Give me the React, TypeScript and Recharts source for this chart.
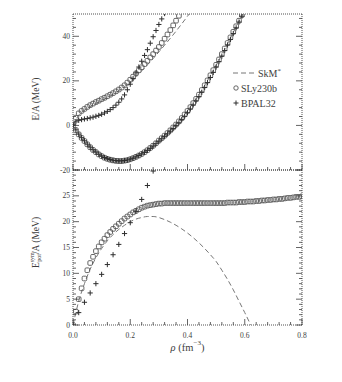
import React from "react";
import { ComposedChart, Line, Scatter, XAxis, YAxis, Legend, Label } from "recharts";

// density grids (fm^-3)
const RHO_FINE = [
  0, 0.01, 0.02, 0.03, 0.04, 0.05, 0.06, 0.07, 0.08, 0.09,
  0.1, 0.11, 0.12, 0.13, 0.14, 0.15, 0.16, 0.17, 0.18, 0.19,
  0.2, 0.21, 0.22, 0.23, 0.24, 0.25, 0.26, 0.27, 0.28, 0.29,
  0.3, 0.31, 0.32, 0.33, 0.34, 0.35, 0.36, 0.37, 0.38, 0.39,
  0.4, 0.41, 0.42, 0.43, 0.44, 0.45, 0.46, 0.47, 0.48, 0.49,
  0.5, 0.51, 0.52, 0.53, 0.54, 0.55, 0.56, 0.57, 0.58, 0.59,
  0.6, 0.61, 0.62, 0.63, 0.64, 0.65, 0.66, 0.67, 0.68, 0.69,
  0.7, 0.71, 0.72, 0.73, 0.74, 0.75, 0.76, 0.77, 0.78, 0.79,
  0.8,
];
const RHO = [
  0, 0.02, 0.04, 0.06, 0.08, 0.1, 0.12, 0.14, 0.16, 0.18,
  0.2, 0.22, 0.24, 0.26, 0.28, 0.3, 0.32, 0.34, 0.36, 0.38,
  0.4, 0.42, 0.44, 0.46, 0.48, 0.5, 0.52, 0.54, 0.56, 0.58,
  0.6, 0.62, 0.64, 0.66, 0.68, 0.7, 0.72, 0.74, 0.76, 0.78,
  0.8,
];

// top panel: symmetric matter E/A (MeV)
const SNM_SLY = [
  0.0, -2.1, -4.0, -5.6, -7.0, -8.5, -9.8, -11.0, -12.0, -13.0,
  -13.8, -14.5, -15.0, -15.4, -15.7, -15.9, -16.0, -16.0, -15.8, -15.6,
  -15.2, -14.7, -14.1, -13.5, -12.8, -12.0, -11.1, -10.1, -9.1, -8.0,
  -6.8, -5.7, -4.6, -3.4, -2.2, -0.9, 0.4, 1.8, 3.3, 4.9,
  6.5, 8.2, 10.0, 11.9, 13.8, 15.9, 18.0, 20.2, 22.5, 24.8,
  27.2, 29.6, 32.0, 34.5, 37.0, 39.5, 42.0, 44.5, 47.0, 49.5,
  52.0,
];
const SNM_BPAL = [
  0.0, -2.0, -3.9, -5.5, -6.9, -8.4, -9.7, -10.9, -11.9, -12.9,
  -13.7, -14.4, -14.9, -15.3, -15.6, -15.8, -15.9, -15.9, -15.7, -15.5,
  -15.1, -14.7, -14.1, -13.5, -12.8, -12.1, -11.2, -10.3, -9.3, -8.2,
  -7.1, -6.0, -4.9, -3.8, -2.6, -1.4, -0.1, 1.2, 2.6, 4.1,
  5.7, 7.4, 9.2, 11.0, 12.9, 14.9, 17.0, 19.2, 21.5, 23.8,
  26.2, 28.6, 31.1, 33.6, 36.1, 38.6, 41.2, 43.8, 46.4, 49.0,
  51.6,
];
const SNM_SKM = [
  0.0, -4.1, -7.1, -9.9, -12.1, -13.9, -15.1, -15.8, -16.0, -15.9,
  -15.2, -14.2, -12.9, -11.2, -9.2, -6.9, -4.6, -2.1, 0.5, 3.4,
  6.6, 10.1, 13.9, 18.0, 22.4, 27.0, 31.8, 36.7, 41.7, 46.8,
  52.0,
];

// top panel: neutron matter E/A (MeV)
const PNM_SLY = [
  null, 3.5, 5.4, 6.5, 7.4, 8.3, 9.1, 9.8, 10.5, 11.1,
  11.8, 12.4, 13.1, 13.8, 14.5, 15.3, 16.1, 17.0, 18.0, 19.2,
  20.5, 21.9, 23.3, 24.7, 26.1, 27.5, 29.0, 30.5, 32.0, 33.6,
  35.2, 37.0, 38.9, 40.8, 42.8, 44.9, 47.0, 49.2, 51.4,
];
const PNM_BPAL = [
  0.3, 1.6, 2.3, 2.6, 2.9, 3.1, 3.4, 3.7, 4.1, 4.5,
  5.0, 5.6, 6.3, 7.1, 8.0, 9.1, 10.4, 11.9, 13.7, 16.0,
  18.5, 21.0, 23.6, 26.2, 28.8, 31.4, 34.0, 36.9, 39.8, 42.6,
  45.3, 47.8, 50.2,
];
const PNM_SKM = [
  0.0, 4.6, 6.8, 8.4, 9.8, 11.1, 12.5, 14.0, 15.6, 17.4,
  19.4, 22.0, 24.5, 27.2, 30.0, 33.0, 36.0, 39.1, 42.3, 45.6,
  49.0, 52.4,
];

// bottom panel: potential part of symmetry energy (MeV)
const SYM_SLY = [
  0.0, 2.6, 5.0, 7.1, 9.0, 10.6, 12.0, 13.2, 14.3, 15.2,
  16.0, 16.7, 17.4, 18.0, 18.6, 19.1, 19.6, 20.1, 20.6, 21.0,
  21.4, 21.8, 22.1, 22.4, 22.7, 22.9, 23.1, 23.2, 23.3, 23.4,
  23.5, 23.5, 23.6, 23.6, 23.6, 23.6, 23.6, 23.6, 23.6, 23.6,
  23.6, 23.6, 23.6, 23.6, 23.6, 23.6, 23.6, 23.6, 23.6, 23.6,
  23.6, 23.6, 23.6, 23.6, 23.7, 23.7, 23.7, 23.7, 23.8, 23.8,
  23.8, 23.9, 23.9, 23.9, 24.0, 24.0, 24.1, 24.1, 24.2, 24.2,
  24.3, 24.3, 24.4, 24.4, 24.5, 24.6, 24.6, 24.7, 24.8, 24.8,
  24.9,
];
const SYM_BPAL = [
  0.0, 2.4, 4.4, 6.2, 8.0, 9.8, 11.7, 13.6, 15.6, 17.7,
  19.8, 22.0, 24.3, 27.0, 29.8, 32.6,
];
const SYM_SKM = [
  0.0, 4.6, 8.0, 10.8, 13.0, 14.8, 16.3, 17.5, 18.5, 19.3,
  20.0, 20.5, 20.8, 21.0, 21.0, 20.8, 20.4, 19.9, 19.3, 18.6,
  17.8, 16.9, 15.9, 14.8, 13.6, 12.3, 10.6, 8.8, 6.8, 4.6,
  2.4, 0.1, -2.3,
];

// ticks
const X_TICKS = [
  0, 0.04, 0.08, 0.12, 0.16, 0.2, 0.24, 0.28, 0.32, 0.36,
  0.4, 0.44, 0.48, 0.52, 0.56, 0.6, 0.64, 0.68, 0.72, 0.76, 0.8,
];
const X_MAJOR = [0, 0.2, 0.4, 0.6, 0.8];
const Y_TOP_TICKS = [-20, -16, -12, -8, -4, 0, 4, 8, 12, 16, 20, 24, 28, 32, 36, 40, 44, 48];
const Y_TOP_MAJOR = [-20, 0, 20, 40];
const Y_BOT_TICKS = [
  0, 1, 2, 3, 4, 5, 6, 7, 8, 9, 10, 11, 12, 13, 14, 15,
  16, 17, 18, 19, 20, 21, 22, 23, 24, 25, 26, 27, 28, 29, 30,
];
const Y_BOT_MAJOR = [0, 5, 10, 15, 20, 25, 30];
const Y_BOT_NOLABEL = [30];

const INK = "#3d3d3d";
const FONT = "'Liberation Serif', 'DejaVu Serif', serif";

type Pt = { rho: number; e: number };
const toPoints = (xs: number[], ys: (number | null)[]): Pt[] =>
  ys
    .map((e, i) => ({ rho: xs[i], e }))
    .filter((p): p is Pt => p.e !== null);

const Square = (props: any) => {
  const { cx, cy } = props;
  if (cx == null || cy == null) return null;
  return (
    <rect x={cx - 2.3} y={cy - 2.3} width={4.6} height={4.6} rx={1.1}
      fill="none" stroke="#555" strokeWidth={0.9} />
  );
};

const Cross = (props: any) => {
  const { cx, cy } = props;
  if (cx == null || cy == null) return null;
  return (
    <path d={`M${cx - 2.6},${cy}h5.2M${cx},${cy - 2.6}v5.2`}
      stroke="#2e2e2e" strokeWidth={1} fill="none" />
  );
};

const near = (list: number[], v: number) => list.some((t) => Math.abs(t - v) < 1e-6);

type Side = "left" | "right" | "top" | "bottom";
const tickFor = (side: Side, majors: number[], labels: boolean, fmt: (v: number) => string, skip: number[] = []) =>
  (props: any) => {
    const { x, y, payload } = props;
    const v = payload.value;
    const major = near(majors, v);
    const len = major ? 6 : 3;
    let line;
    if (side === "left") line = <line x1={x} x2={x + len} y1={y} y2={y} />;
    else if (side === "right") line = <line x1={x} x2={x - len} y1={y} y2={y} />;
    else if (side === "top") line = <line x1={x} x2={x} y1={y} y2={y + len} />;
    else line = <line x1={x} x2={x} y1={y} y2={y - len} />;
    const showLabel = labels && major && !near(skip, v);
    return (
      <g>
        <g stroke={INK} strokeWidth={0.8}>{line}</g>
        {showLabel && side === "left" && (
          <text x={x - 3} y={y} textAnchor="end" dominantBaseline="central"
            fontSize={7.5} fontFamily={FONT} fill={INK}>{fmt(v)}</text>
        )}
        {showLabel && side === "bottom" && (
          <text x={x} y={y + 10} textAnchor="middle" dominantBaseline="central"
            fontSize={7.5} fontFamily={FONT} fill={INK}>{fmt(v)}</text>
        )}
      </g>
    );
  };

const frameLine = { stroke: INK, strokeWidth: 0.9, strokeDasharray: "1 1" };
const fmtY = (v: number) => String(v);
const fmtX = (v: number) => v.toFixed(1);

const LegendBox = () => {
  const row: React.CSSProperties = { display: "flex", alignItems: "center", height: 15, whiteSpace: "nowrap" };
  return (
    <div style={{ fontFamily: FONT, fontSize: 10, color: INK }}>
      <div style={row}>
        <svg width={25} height={10}>
          <line x1={0} x2={24} y1={5} y2={5} stroke="#777" strokeWidth={1} strokeDasharray="5 3" />
        </svg>
        <span>SkM<sup style={{ fontSize: 7 }}>*</sup></span>
      </div>
      <div style={row}>
        <svg width={8} height={10}>
          <circle cx={3} cy={5} r={2.2} fill="none" stroke="#555" strokeWidth={0.9} />
        </svg>
        <span>SLy230b</span>
      </div>
      <div style={row}>
        <svg width={8} height={10}>
          <path d="M0.5,5h5M3,2.5v5" stroke="#2e2e2e" strokeWidth={1} />
        </svg>
        <span>BPAL32</span>
      </div>
    </div>
  );
};

const TopTitle = (props: any) => {
  const { viewBox } = props;
  const x = 36;
  const y = viewBox.y + viewBox.height / 2 + 7;
  return (
    <text x={x} y={y} transform={`rotate(-90, ${x}, ${y})`} textAnchor="middle"
      dominantBaseline="central" fontSize={9.5} fontFamily={FONT} fill={INK}>
      E/A (MeV)
    </text>
  );
};

const BottomTitle = (props: any) => {
  const { viewBox } = props;
  const x = 36;
  const y = viewBox.y + viewBox.height / 2 - 5;
  return (
    <text x={x} y={y} transform={`rotate(-90, ${x}, ${y})`} textAnchor="middle"
      dominantBaseline="central" fontSize={9.5} fontFamily={FONT} fill={INK}>
      E
      <tspan fontSize={6} dy={-4}>sym</tspan>
      <tspan fontSize={6} dx={-9.5} dy={7}>pot</tspan>
      <tspan dy={-3}>/A (MeV)</tspan>
    </text>
  );
};

const XTitle = (props: any) => {
  const { viewBox } = props;
  const x = viewBox.x + viewBox.width / 2;
  const y = viewBox.y + 22;
  return (
    <text x={x} y={y} textAnchor="middle" dominantBaseline="central"
      fontSize={10.5} fontFamily={FONT} fill={INK}>
      <tspan fontStyle="italic">ρ</tspan>
      <tspan> (fm</tspan>
      <tspan fontSize={7} dy={-4}>−3</tspan>
      <tspan dy={4}>)</tspan>
    </text>
  );
};

export default function App() {
  return (
    <div style={{ position: "absolute", left: 0, top: 0, width: 342, height: 382, background: "#fff" }}>
      <div style={{ position: "absolute", left: 0, top: 168 }}>
        <ComposedChart width={342} height={214} margin={{ top: 1, right: 39, bottom: 56, left: 72 }}>
          <XAxis xAxisId={0} dataKey="rho" type="number" domain={[0, 0.8]} allowDataOverflow
            ticks={X_TICKS} interval={0} height={1} tickSize={0} tickMargin={0}
            axisLine={frameLine} tickLine={false} tick={tickFor("bottom", X_MAJOR, true, fmtX)}>
            <Label content={<XTitle />} />
          </XAxis>
          <XAxis xAxisId="t" orientation="top" type="number" domain={[0, 0.8]} allowDataOverflow
            ticks={X_TICKS} interval={0} height={1} tickSize={0} tickMargin={0}
            axisLine={frameLine} tickLine={false} tick={tickFor("top", X_MAJOR, false, fmtX)} />
          <YAxis yAxisId={0} dataKey="e" type="number" domain={[0, 30]} allowDataOverflow
            ticks={Y_BOT_TICKS} interval={0} width={1} tickSize={0} tickMargin={0}
            axisLine={frameLine} tickLine={false}
            tick={tickFor("left", Y_BOT_MAJOR, true, fmtY, Y_BOT_NOLABEL)}>
            <Label content={<BottomTitle />} />
          </YAxis>
          <YAxis yAxisId="r" orientation="right" type="number" domain={[0, 30]} allowDataOverflow
            ticks={Y_BOT_TICKS} interval={0} width={1} tickSize={0} tickMargin={0}
            axisLine={frameLine} tickLine={false} tick={tickFor("right", Y_BOT_MAJOR, false, fmtY)} />
          <Line data={toPoints(RHO, SYM_SKM)} dataKey="e" type="monotone" stroke="#777"
            strokeWidth={1} strokeDasharray="5 3" dot={false} isAnimationActive={false} />
          <Scatter data={toPoints(RHO_FINE, SYM_SLY)} dataKey="e" shape={Square} isAnimationActive={false} />
          <Scatter data={toPoints(RHO, SYM_BPAL)} dataKey="e" shape={Cross} isAnimationActive={false} />
        </ComposedChart>
      </div>
      <div style={{ position: "absolute", left: 0, top: 0 }}>
        <ComposedChart width={342} height={182} margin={{ top: 13, right: 39, bottom: 11, left: 72 }}>
          <XAxis xAxisId={0} dataKey="rho" type="number" domain={[0, 0.8]} allowDataOverflow
            ticks={X_TICKS} interval={0} height={1} tickSize={0} tickMargin={0}
            axisLine={frameLine} tickLine={false} tick={tickFor("bottom", X_MAJOR, false, fmtX)} />
          <XAxis xAxisId="t" orientation="top" type="number" domain={[0, 0.8]} allowDataOverflow
            ticks={X_TICKS} interval={0} height={1} tickSize={0} tickMargin={0}
            axisLine={frameLine} tickLine={false} tick={tickFor("top", X_MAJOR, false, fmtX)} />
          <YAxis yAxisId={0} dataKey="e" type="number" domain={[-20, 50]} allowDataOverflow
            ticks={Y_TOP_TICKS} interval={0} width={1} tickSize={0} tickMargin={0}
            axisLine={frameLine} tickLine={false} tick={tickFor("left", Y_TOP_MAJOR, true, fmtY)}>
            <Label content={<TopTitle />} />
          </YAxis>
          <YAxis yAxisId="r" orientation="right" type="number" domain={[-20, 50]} allowDataOverflow
            ticks={Y_TOP_TICKS} interval={0} width={1} tickSize={0} tickMargin={0}
            axisLine={frameLine} tickLine={false} tick={tickFor("right", Y_TOP_MAJOR, false, fmtY)} />
          <Line data={toPoints(RHO, SNM_SKM)} dataKey="e" type="monotone" stroke="#777"
            strokeWidth={1} strokeDasharray="5 3" dot={false} isAnimationActive={false} />
          <Line data={toPoints(RHO, PNM_SKM)} dataKey="e" type="monotone" stroke="#777"
            strokeWidth={1} strokeDasharray="5 3" dot={false} isAnimationActive={false} />
          <Scatter data={toPoints(RHO_FINE, SNM_SLY)} dataKey="e" shape={Square} isAnimationActive={false} />
          <Scatter data={toPoints(RHO_FINE, PNM_SLY)} dataKey="e" shape={Square} isAnimationActive={false} />
          <Scatter data={toPoints(RHO_FINE, SNM_BPAL)} dataKey="e" shape={Cross} isAnimationActive={false} />
          <Scatter data={toPoints(RHO_FINE, PNM_BPAL)} dataKey="e" shape={Cross} isAnimationActive={false} />
          <Legend layout="vertical" align="center" verticalAlign="middle"
            wrapperStyle={{ position: "absolute", left: 233, top: 65.5, width: 70, height: 45 }}
            content={() => <LegendBox />} />
        </ComposedChart>
      </div>
    </div>
  );
}
